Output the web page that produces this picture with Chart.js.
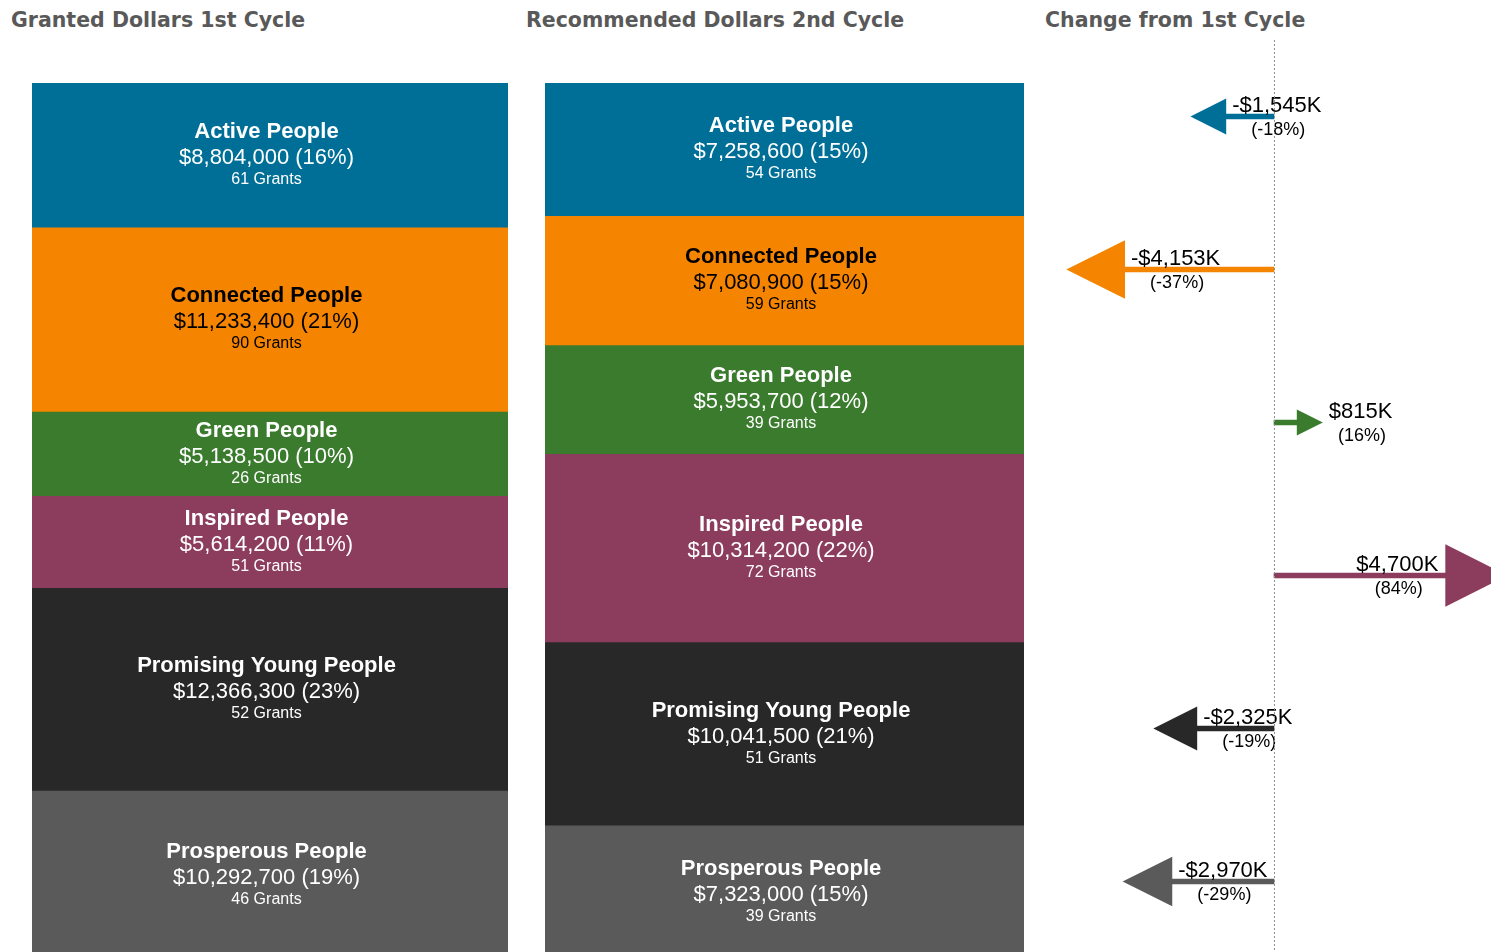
<!DOCTYPE html>
<html lang="en">
<head>
<meta charset="UTF-8">
<title>Granted vs Recommended Dollars</title>
<script src="https://cdn.jsdelivr.net/npm/chart.js"></script>
<style>
  body { margin: 0; width: 1491px; height: 952px; overflow: hidden; background: #fff; position: relative; }
  .title { position: absolute; top: 8px; line-height: 24px; font-family: "DejaVu Sans", sans-serif; font-weight: bold; font-size: 20.5px; color: #595959; white-space: nowrap; }
  .box { position: absolute; }
</style>
</head>
<body>

<div class="title" style="left:11px">Granted Dollars 1st Cycle</div>
<div class="title" style="left:526px">Recommended Dollars 2nd Cycle</div>
<div class="title" style="left:1045px">Change from 1st Cycle</div>

<div class="box" style="left:32px;top:83px;width:476px;height:876px"><canvas id="firstChart"></canvas></div>
<div class="box" style="left:545px;top:83px;width:479px;height:876px"><canvas id="secondChart"></canvas></div>
<div class="box" style="left:1040px;top:40px;width:451px;height:918px"><canvas id="changeChart"></canvas></div>

<script>
    // data
    const categories = ['Active People', 'Connected People', 'Green People', 'Inspired People', 'Promising Young People', 'Prosperous People'];
    const dollars1st = [8804000, 11233400, 5138500, 5614200, 12366300, 10292700];
    const grants1st = [61, 90, 26, 51, 52, 46];
    const dollars2nd = [7258600, 7080900, 5953700, 10314200, 10041500, 7323000];
    const grants2nd = [54, 59, 39, 72, 51, 39];

    const colors = ['#006f97', '#f58400', '#3a7b2d', '#8c3c5c', '#282828', '#5a5a5a'];
    const textColors = ['#fff', '#000', '#fff', '#fff', '#fff', '#fff'];

    // change in thousands
    const changeK = dollars2nd.map((v, i) => (v - dollars1st[i]) / 1000);

    const FONT = '"Liberation Sans", Arial, sans-serif';

    // label in the middle of each stacked segment
    const segmentLabels = {
        id: 'segmentLabels',
        afterDatasetsDraw(chart, args, opts) {
            const ctx = chart.ctx;
            const values = chart.data.datasets.map(ds => ds.data[0]);
            const total = values.reduce((a, b) => a + b, 0);
            ctx.save();
            ctx.textAlign = 'center';
            ctx.textBaseline = 'alphabetic';
            chart.data.datasets.forEach((ds, i) => {
                const bar = chart.getDatasetMeta(i).data[0];
                const mid = (bar.y + bar.base) / 2;
                const x = bar.x - 3.5;
                const v = values[i];
                ctx.fillStyle = textColors[i];
                ctx.font = 'bold 22px ' + FONT;
                ctx.fillText(ds.label, x, mid - 17);
                ctx.font = '22px ' + FONT;
                ctx.fillText('$' + v.toLocaleString('en-US') + ' (' + Math.round(v / total * 100) + '%)', x, mid + 9);
                ctx.font = '16px ' + FONT;
                ctx.fillText(opts.grants[i] + ' Grants', x, mid + 29);
            });
            ctx.restore();
        }
    };

    function stackChart(id, values, grants) {
        const total = values.reduce((a, b) => a + b, 0);
        return new Chart(document.getElementById(id), {
            type: 'bar',
            data: {
                labels: ['total'],
                datasets: categories.map((c, i) => ({
                    label: c,
                    data: [values[i]],
                    backgroundColor: colors[i],
                    borderWidth: 0,
                    barPercentage: 1,
                    categoryPercentage: 1
                }))
            },
            options: {
                animation: false,
                responsive: true,
                maintainAspectRatio: false,
                devicePixelRatio: 1,
                layout: { padding: 0 },
                scales: {
                    x: { stacked: true, display: false },
                    y: { stacked: true, display: false, reverse: true, min: 0, max: total }
                },
                plugins: {
                    legend: { display: false },
                    tooltip: { enabled: false },
                    segmentLabels: { grants: grants }
                }
            },
            plugins: [segmentLabels]
        });
    }

    stackChart('firstChart', dollars1st, grants1st);
    stackChart('secondChart', dollars2nd, grants2nd);

    // arrow heads, labels and the dotted zero line
    const arrowParts = {
        id: 'arrowParts',
        afterDatasetsDraw(chart) {
            const ctx = chart.ctx;
            const xs = chart.scales.x, ys = chart.scales.y;
            ctx.save();
            changeK.forEach((v, i) => {
                const y = ys.getPixelForValue(i);
                const sign = Math.sign(v);
                const half = 0.455 * Math.sqrt(Math.abs(v));
                const tip = xs.getPixelForValue(v) + sign * 10;
                const base = tip - sign * 2 * half;
                ctx.fillStyle = colors[i];
                ctx.beginPath();
                ctx.moveTo(tip, y);
                ctx.lineTo(base, y - half);
                ctx.lineTo(base, y + half);
                ctx.closePath();
                ctx.fill();

                const k = Math.round(Math.abs(v));
                const pct = Math.round(Math.abs(v * 1000) / dollars1st[i] * 100);
                const line1 = (sign < 0 ? '-' : '') + '$' + k.toLocaleString('en-US') + 'K';
                const line2 = '(' + (sign < 0 ? '-' : '') + pct + '%)';
                ctx.font = '22px ' + FONT;
                const w = ctx.measureText(line1).width;
                let left;
                if (sign < 0) {
                    left = base + 6;
                } else {
                    left = tip + 6;
                    if (left + w > chart.width) left = base - 7 - w;
                }
                ctx.fillStyle = '#000';
                ctx.textAlign = 'left';
                ctx.fillText(line1, left, y - 5);
                ctx.font = '18px ' + FONT;
                ctx.textAlign = 'center';
                ctx.fillText(line2, left + w / 2 + 1.5, y + 18);
            });
            ctx.restore();
        },
        afterDraw(chart) {
            const ctx = chart.ctx;
            const zero = Math.round(chart.scales.x.getPixelForValue(0)) + 0.5;
            ctx.save();
            ctx.strokeStyle = '#909090';
            ctx.lineWidth = 1;
            ctx.setLineDash([2, 2]);
            ctx.beginPath();
            ctx.moveTo(zero, chart.chartArea.top);
            ctx.lineTo(zero, chart.chartArea.bottom);
            ctx.stroke();
            ctx.restore();
        }
    };

    new Chart(document.getElementById('changeChart'), {
        type: 'bar',
        data: {
            labels: categories,
            datasets: [{
                data: changeK,
                backgroundColor: colors,
                borderWidth: 0,
                barThickness: 5
            }]
        },
        options: {
            indexAxis: 'y',
            animation: false,
            responsive: true,
            maintainAspectRatio: false,
            devicePixelRatio: 1,
            layout: { padding: 0 },
            scales: {
                x: { display: false, min: -4916, max: 4559 },
                y: { display: false }
            },
            plugins: {
                legend: { display: false },
                tooltip: { enabled: false }
            }
        },
        plugins: [arrowParts]
    });
</script>

</body>
</html>
